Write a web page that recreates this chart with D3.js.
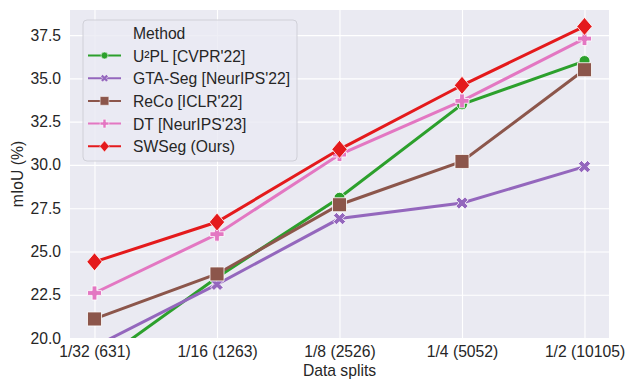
<!DOCTYPE html>
<html><head><meta charset="utf-8">
<script src="https://cdn.jsdelivr.net/npm/d3@7"></script>
<style>body{margin:0;background:#fff;} svg{display:block;font-family:"Liberation Sans",Arial,sans-serif;}</style>
</head><body><div id="chart"></div>
<script>
const categories = ["1/32 (631)", "1/16 (1263)", "1/8 (2526)", "1/4 (5052)", "1/2 (10105)"];
const u2pl   = [18.4, 23.5, 28.1, 33.5, 36.0];
const gtaseg = [19.5, 23.1, 26.9, 27.8, 29.9];
const reco   = [21.1, 23.7, 27.7, 30.2, 35.5];
const dt     = [22.6, 26.0, 30.6, 33.7, 37.3];
const swseg  = [24.4, 26.7, 30.9, 34.6, 38.0];
const yTicks = [20.0, 22.5, 25.0, 27.5, 30.0, 32.5, 35.0, 37.5];
const seriesNames = ["U²PL [CVPR'22]", "GTA-Seg [NeurIPS'22]", "ReCo [ICLR'22]", "DT [NeurIPS'23]", "SWSeg (Ours)"];
const seriesValues = [u2pl, gtaseg, reco, dt, swseg];
const colors = ["#2ca02c", "#9467bd", "#8c564b", "#e377c2", "#e41a1c"];
const markers = ["circle", "x", "square", "plus", "diamond"];

const W = 626, H = 379, FS = 15.7;
const m = {left: 70, right: 17, top: 10, bottom: 41};
const pw = W - m.left - m.right, ph = H - m.top - m.bottom;

const svg = d3.select("#chart").append("svg").attr("width", W).attr("height", H);
const x = d3.scaleLinear().domain([-0.2, categories.length - 1 + 0.2]).range([m.left, m.left + pw]);
const y = d3.scaleLinear().domain([20, 38.95]).range([m.top + ph, m.top]);

svg.append("clipPath").attr("id", "plotclip").append("rect")
  .attr("x", m.left).attr("y", m.top).attr("width", pw).attr("height", ph);

svg.append("rect").attr("x", m.left).attr("y", m.top).attr("width", pw).attr("height", ph).attr("fill", "#eaeaf2");

const gx = svg.append("g").attr("transform", `translate(0,${m.top + ph})`)
  .call(d3.axisBottom(x).tickValues(d3.range(categories.length)).tickFormat(i => categories[i]).tickSize(-ph).tickPadding(8));
gx.select(".domain").remove();
gx.selectAll("line").attr("stroke", "#fff").attr("stroke-width", 1.1);
gx.selectAll("text").attr("font-size", FS).attr("fill", "#262626").attr("font-family", "Liberation Sans, Arial, sans-serif");

const gy = svg.append("g").attr("transform", `translate(${m.left},0)`)
  .call(d3.axisLeft(y).tickValues(yTicks).tickFormat(d3.format(".1f")).tickSize(-pw).tickPadding(9));
gy.select(".domain").remove();
gy.selectAll("line").attr("stroke", "#fff").attr("stroke-width", 1.1);
gy.selectAll("text").attr("font-size", FS).attr("fill", "#262626").attr("font-family", "Liberation Sans, Arial, sans-serif");

svg.append("text").attr("x", m.left + pw / 2).attr("y", 376).attr("text-anchor", "middle")
  .attr("font-size", FS).attr("fill", "#262626").text("Data splits");
svg.append("text").attr("transform", `translate(23,${m.top + ph / 2}) rotate(-90)`).attr("text-anchor", "middle")
  .attr("font-size", FS).attr("fill", "#262626").text("mIoU (%)");

function markerPath(type, s) {
  const r = s / 2, t = s * 0.17;
  const plus = `M${-t},${-r}H${t}V${-t}H${r}V${t}H${t}V${r}H${-t}V${t}H${-r}V${-t}H${-t}Z`;
  switch (type) {
    case "circle": return d3.symbol(d3.symbolCircle, s * s * Math.PI / 4)();
    case "square": return d3.symbol(d3.symbolSquare, s * s)();
    case "diamond": return `M0,${-r}L${r * 0.85},0L0,${r}L${-r * 0.85},0Z`;
    case "plus": return plus;
    case "x": return plus;
  }
}
const markerSize = {circle: 11, square: 14, diamond: 18, plus: 14, x: 13};

const plot = svg.append("g").attr("clip-path", "url(#plotclip)");
const line = d3.line().x((d, i) => x(i)).y(d => y(d));
seriesValues.forEach((vals, k) => {
  const g = plot.append("g");
  g.append("path").datum(vals).attr("d", line).attr("fill", "none")
    .attr("stroke", colors[k]).attr("stroke-width", 3);
  g.selectAll("path.mk").data(vals).join("path").attr("class", "mk")
    .attr("d", markerPath(markers[k], markerSize[markers[k]]))
    .attr("transform", (d, i) => `translate(${x(i)},${y(d)})` + (markers[k] === "x" ? " rotate(45)" : ""))
    .attr("fill", colors[k]).attr("stroke", "#fff").attr("stroke-width", 0.8);
});

const lg = svg.append("g");
lg.append("rect").attr("x", 83).attr("y", 20).attr("width", 214).attr("height", 141).attr("rx", 4)
  .attr("fill", "#eaeaf2").attr("fill-opacity", 0.8).attr("stroke", "#d0d0d8").attr("stroke-width", 1);
lg.append("text").attr("x", 133).attr("y", 38.5).attr("font-size", FS).attr("fill", "#262626").text("Method");
seriesNames.forEach((name, k) => {
  const cy = 55.5 + k * 22.7;
  lg.append("line").attr("x1", 88).attr("x2", 121).attr("y1", cy).attr("y2", cy)
    .attr("stroke", colors[k]).attr("stroke-width", 2);
  const s = markerSize[markers[k]] * 0.62;
  lg.append("path").attr("d", markerPath(markers[k], s))
    .attr("transform", `translate(104.5,${cy})` + (markers[k] === "x" ? " rotate(45)" : ""))
    .attr("fill", colors[k]).attr("stroke", "#fff").attr("stroke-width", 0.5);
  lg.append("text").attr("x", 133).attr("y", cy + 6).attr("font-size", FS).attr("fill", "#262626").text(name);
});
</script></body></html>
